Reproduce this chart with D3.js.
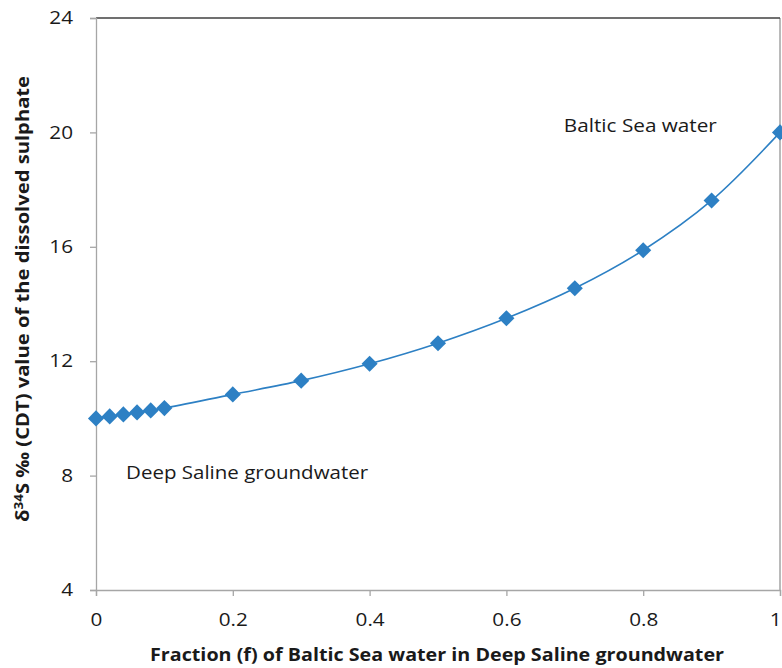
<!DOCTYPE html>
<html>
<head>
<meta charset="utf-8">
<script src="https://cdn.jsdelivr.net/npm/d3@7"></script>
<style>
  html, body { margin: 0; padding: 0; background: #fff; }
  text { font-family: "Open Sans", Lato, sans-serif; fill: #1a1a1a; }
</style>
</head>
<body>
<svg id="chart" width="782" height="668"></svg>
<script>
// Fraction of Baltic Sea water mixed into deep saline groundwater
const fractions = [0, 0.02, 0.04, 0.06, 0.08, 0.1, 0.2, 0.3, 0.4, 0.5, 0.6, 0.7, 0.8, 0.9, 1.0];
// δ34S of the dissolved sulphate for each mixture (‰ CDT)
const delta34S = [10.0, 10.07, 10.14, 10.21, 10.28, 10.36, 10.84, 11.32, 11.91, 12.63, 13.50, 14.55, 15.88, 17.62, 20.0];

const xTicks = [0, 0.2, 0.4, 0.6, 0.8, 1];
const yTicks = [4, 8, 12, 16, 20, 24];

const endMemberLabels = [
  { text: "Baltic Sea water", f: 0.684, v: 20.0, width: 153 },
  { text: "Deep Saline groundwater", f: 0.044, v: 7.88, width: 242 }
];

const svg = d3.select("#chart");
const margin = { left: 96, right: 2, top: 18, bottom: 78 };
const W = 782, H = 668;
const FONT = 18;
const STRETCH = 1.15; // horizontal widening applied to tick labels

const x = d3.scaleLinear().domain([0, 1]).range([margin.left, W - margin.right]);
const y = d3.scaleLinear().domain([4, 24]).range([H - margin.bottom, margin.top]);

// widen a text element horizontally to a given length
function fitWidth(sel, target) {
  sel.each(function () {
    const w = this.getComputedTextLength();
    const t = typeof target === "function" ? target(w) : target;
    d3.select(this).attr("textLength", t).attr("lengthAdjust", "spacingAndGlyphs");
  });
}

// plot area frame (right and top)
svg.append("line")
  .attr("x1", x(1)).attr("x2", x(1)).attr("y1", y(24)).attr("y2", y(4))
  .attr("stroke", "#8c8c8c").attr("stroke-width", 1.2);
svg.append("line")
  .attr("x1", x(0)).attr("x2", x(1)).attr("y1", y(24)).attr("y2", y(24))
  .attr("stroke", "#404040").attr("stroke-width", 1.3);

// y axis
const yAxis = svg.append("g")
  .attr("transform", `translate(${x(0)},0)`)
  .call(d3.axisLeft(y).tickValues(yTicks).tickSize(6).tickPadding(17).tickFormat(d3.format("d")));
yAxis.select(".domain").attr("stroke", "#a6a6a6").attr("stroke-width", 1.3);
yAxis.selectAll(".tick line").attr("stroke", "#a6a6a6").attr("stroke-width", 1.3);
yAxis.selectAll("text").attr("font-size", FONT).attr("fill", "#1a1a1a")
  .attr("font-family", "'Open Sans', Lato, sans-serif")
  .call(fitWidth, w => w * STRETCH);

// x axis
const xAxis = svg.append("g")
  .attr("transform", `translate(0,${y(4)})`)
  .call(d3.axisBottom(x).tickValues(xTicks).tickSize(6).tickPadding(17)
    .tickFormat(d => d === 0 || d === 1 ? d3.format("d")(d) : d3.format(".1f")(d)));
xAxis.select(".domain").attr("stroke", "#a6a6a6").attr("stroke-width", 1.3);
xAxis.selectAll(".tick line").attr("stroke", "#a6a6a6").attr("stroke-width", 1.3);
xAxis.selectAll("text").attr("font-size", FONT).attr("fill", "#1a1a1a")
  .attr("font-family", "'Open Sans', Lato, sans-serif")
  .call(fitWidth, w => w * STRETCH);
// last label sits inside the right edge
xAxis.selectAll(".tick").filter(d => d === 1).select("text")
  .attr("text-anchor", "end").attr("x", 1);

const data = fractions.map((f, i) => ({ f, v: delta34S[i] }));
const blue = "#2d80c4";

// smoothed mixing curve
svg.append("path")
  .datum(data)
  .attr("fill", "none")
  .attr("stroke", blue)
  .attr("stroke-width", 1.6)
  .attr("d", d3.line().x(d => x(d.f)).y(d => y(d.v)).curve(d3.curveCatmullRom.alpha(0.5)));

// diamond markers
const diamond = d3.symbol().type(d3.symbolDiamond2).size(165);
svg.selectAll(".pt")
  .data(data)
  .join("path")
  .attr("class", "pt")
  .attr("transform", d => `translate(${x(d.f)},${y(d.v)})`)
  .attr("d", diamond)
  .attr("fill", blue);

// end-member annotations
svg.selectAll(".lbl")
  .data(endMemberLabels)
  .join("text")
  .attr("class", "lbl")
  .attr("x", d => x(d.f))
  .attr("y", d => y(d.v))
  .attr("font-size", FONT)
  .text(d => d.text)
  .each(function (d) {
    d3.select(this).attr("textLength", d.width).attr("lengthAdjust", "spacingAndGlyphs");
  });

// axis titles
svg.append("text")
  .attr("x", 437)
  .attr("y", 661)
  .attr("text-anchor", "middle")
  .attr("font-size", FONT)
  .attr("font-weight", "bold")
  .attr("textLength", 574)
  .attr("lengthAdjust", "spacingAndGlyphs")
  .text("Fraction (f) of Baltic Sea water in Deep Saline groundwater");

const yTitle = svg.append("text")
  .attr("transform", `translate(29,299) rotate(-90)`)
  .attr("text-anchor", "middle")
  .attr("font-size", FONT)
  .attr("font-weight", "bold");
yTitle.append("tspan").text("δ");
yTitle.append("tspan").attr("font-size", 12).attr("dy", -6).text("34");
yTitle.append("tspan").attr("dy", 6).text("S ‰ (CDT) value of the dissolved sulphate");
fitWidth(yTitle, 446);
</script>
</body>
</html>
